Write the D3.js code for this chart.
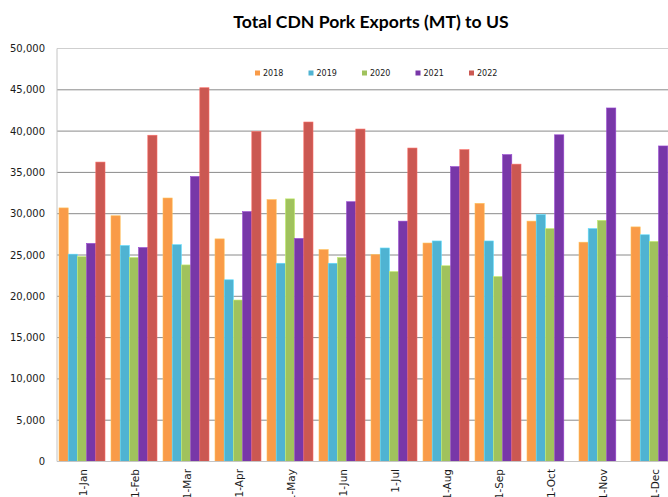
<!DOCTYPE html>
<html>
<head>
    <title>Total CDN Pork Exports (MT) to US</title>
    <script src="https://d3js.org/d3.v7.min.js"></script>
    <style>
        body { margin: 0; background: #fff; }
    </style>
</head>
<body>
    <div id="chart"></div>
    <script>
        // data
        var months = ["1-Jan", "1-Feb", "1-Mar", "1-Apr", "1-May", "1-Jun",
                      "1-Jul", "1-Aug", "1-Sep", "1-Oct", "1-Nov", "1-Dec"];
        var years = ["2018", "2019", "2020", "2021", "2022"];
        var v2018 = [30700, 29750, 31900, 26950, 31700, 25650, 25050, 26450, 31250, 29100, 26550, 28400];
        var v2019 = [25100, 26150, 26250, 22000, 24000, 24000, 25850, 26700, 26700, 29900, 28200, 27450];
        var v2020 = [24800, 24700, 23800, 19550, 31800, 24700, 23000, 23700, 22400, 28200, 29200, 26650];
        var v2021 = [26400, 25900, 34500, 30250, 27000, 31450, 29100, 35700, 37150, 39550, 42800, 38200];
        var v2022 = [36250, 39500, 45250, 39950, 41100, 40250, 37950, 37750, 36000, null, null, null];
        var yTicks = [0, 5000, 10000, 15000, 20000, 25000, 30000, 35000, 40000, 45000, 50000];

        var series = [v2018, v2019, v2020, v2021, v2022];
        var colors = ["#F99B48", "#4FB3D2", "#A0C25D", "#7837A8", "#CB5852"];

        var W = 668, H = 497;
        var plotLeft = 57, plotTop = 48.5, plotBottom = 461.5, catW = 52;

        var svg = d3.select("#chart").append("svg")
            .attr("width", W)
            .attr("height", H)
            .style("display", "block");

        var y = d3.scaleLinear().domain([0, 50000]).range([plotBottom, plotTop]);
        var x0 = d3.scaleBand().domain(months).range([plotLeft, plotLeft + catW * months.length]);
        var x1 = d3.scaleBand().domain(years).range([2, 48]);

        // gridlines
        svg.append("g").selectAll("line")
            .data(yTicks.filter(function (t) { return t > 0 && t < 50000; }))
            .enter().append("line")
            .attr("x1", plotLeft).attr("x2", W)
            .attr("y1", function (d) { return y(d); })
            .attr("y2", function (d) { return y(d); })
            .attr("stroke", "#8a8a8a")
            .attr("stroke-width", 1);

        // plot border top + axes
        svg.append("line").attr("x1", plotLeft).attr("x2", W)
            .attr("y1", y(50000)).attr("y2", y(50000))
            .attr("stroke", "#cfcfcf");
        svg.append("line").attr("x1", plotLeft).attr("x2", plotLeft)
            .attr("y1", plotTop).attr("y2", plotBottom)
            .attr("stroke", "#c4c4c4");

        // bars
        var rows = [];
        months.forEach(function (m, i) {
            years.forEach(function (yr, j) {
                if (series[j][i] != null) rows.push({ month: m, year: yr, value: series[j][i], c: colors[j] });
            });
        });

        svg.append("g").selectAll("rect")
            .data(rows)
            .enter().append("rect")
            .attr("x", function (d) { return x0(d.month) + x1(d.year); })
            .attr("y", function (d) { return y(d.value); })
            .attr("width", x1.bandwidth())
            .attr("height", function (d) { return y(0) - y(d.value); })
            .attr("fill", function (d) { return d.c; })
            .attr("stroke", function (d) { return d3.color(d.c).brighter(0.6); })
            .attr("stroke-width", 0.6);

        svg.append("line").attr("x1", plotLeft).attr("x2", W)
            .attr("y1", plotBottom).attr("y2", plotBottom)
            .attr("stroke", "#c4c4c4");

        // y labels
        svg.append("g").selectAll("text")
            .data(yTicks)
            .enter().append("text")
            .attr("x", 45)
            .attr("y", function (d) { return y(d); })
            .attr("dy", "0.35em")
            .attr("text-anchor", "end")
            .style("font-family", "DejaVu Sans")
            .style("font-size", "10px")
            .style("fill", "#1a1a1a")
            .text(function (d) { return d3.format(",")(d); });

        // x labels (the bottom of the window crops the longer ones, as in the original)
        svg.append("g").selectAll("text")
            .data(months)
            .enter().append("text")
            .attr("transform", function (d) {
                return "translate(" + (x0(d) + catW / 2) + "," + 469 + ") rotate(-90)";
            })
            .attr("dy", "0.35em")
            .attr("text-anchor", "end")
            .style("font-family", "DejaVu Sans")
            .style("font-size", "10.5px")
            .style("fill", "#1a1a1a")
            .text(function (d) { return d; });

        // title
        svg.append("text")
            .attr("x", 371)
            .attr("y", 28)
            .attr("text-anchor", "middle")
            .style("font-family", "Lato")
            .style("font-weight", "bold")
            .style("font-size", "17.6px")
            .style("fill", "#000")
            .text("Total CDN Pork Exports (MT) to US");

        // legend
        var legend = svg.append("g").selectAll("g")
            .data(years)
            .enter().append("g")
            .attr("transform", function (d, i) { return "translate(" + (255 + i * 53.5) + ",73)"; });
        legend.append("rect")
            .attr("x", 0).attr("y", -2.5)
            .attr("width", 5).attr("height", 5)
            .attr("fill", function (d, i) { return colors[i]; });
        legend.append("text")
            .attr("x", 8)
            .attr("dy", "0.35em")
            .style("font-family", "DejaVu Sans")
            .style("font-size", "8px")
            .style("fill", "#1a1a1a")
            .text(function (d) { return d; });
    </script>
</body>
</html>
